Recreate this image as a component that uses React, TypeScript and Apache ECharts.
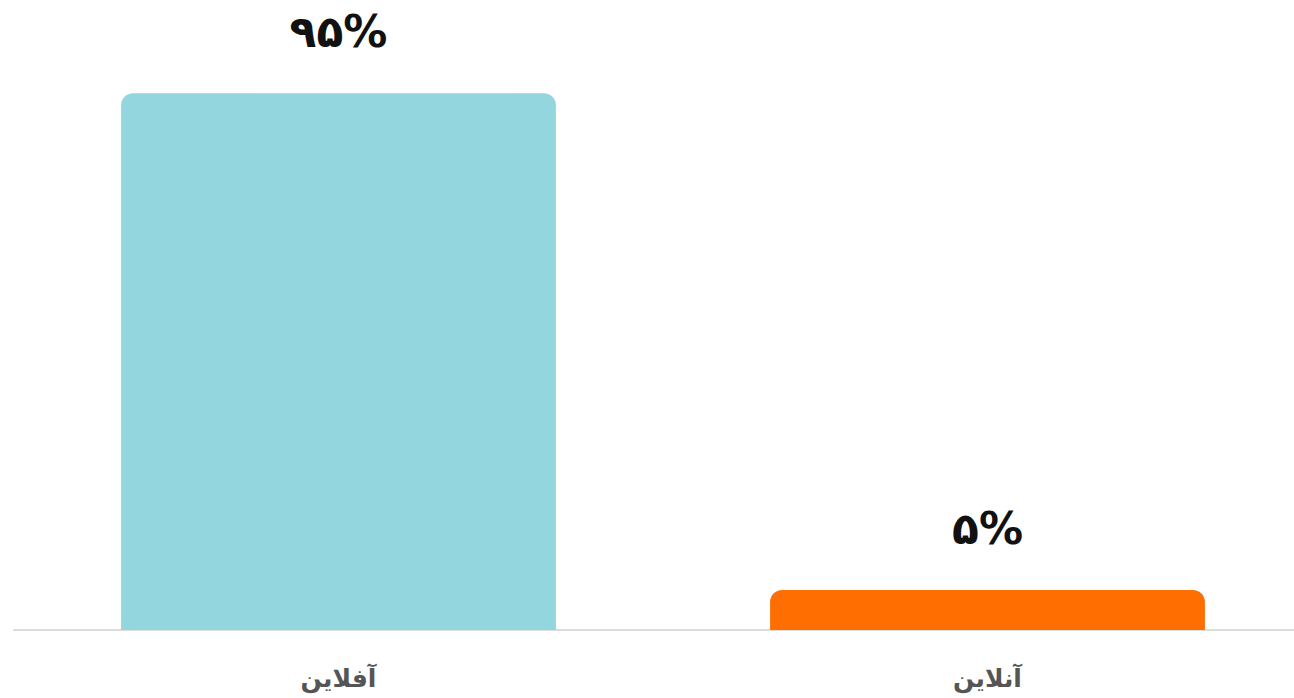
import React, { useEffect, useRef } from "react";
import * as echarts from "echarts";

const categories = ["آفلاین", "آنلاین"];
const values = [95, 5];
const valueLabels = ["۹۵%", "۵%"];
const colors = ["#93d6dd", "#ff6e00"];

export default function App() {
  const ref = useRef<HTMLDivElement>(null);
  useEffect(() => {
    if (!ref.current) return;
    const chart = echarts.init(ref.current, null, { renderer: "svg" });
    chart.setOption({
      animation: false,
      grid: { left: 14, top: 65, right: 0, bottom: 68, containLabel: false },
      xAxis: {
        type: "category",
        data: categories,
        axisLine: { show: true, lineStyle: { color: "#dcdcdc", width: 2 } },
        axisTick: { show: false },
        axisLabel: {
          color: "#555",
          fontSize: 25,
          fontWeight: "bold",
          fontFamily: "DejaVu Sans",
          margin: 36,
        },
      },
      yAxis: {
        type: "value",
        min: 0,
        max: 100,
        show: false,
        splitLine: { show: false },
      },
      series: [
        {
          type: "bar",
          barWidth: "67%",
          barMinHeight: 40,
          data: values.map((v, i) => ({
            value: v,
            itemStyle: { color: colors[i], borderRadius: [12, 12, 0, 0] },
            label: { formatter: valueLabels[i] },
          })),
          label: {
            show: true,
            position: "top",
            distance: 40,
            color: "#111",
            fontSize: 44,
            fontWeight: "bold",
            fontFamily: "DejaVu Sans",
          },
        },
      ],
    });
    return () => chart.dispose();
  }, []);
  return (
    <div style={{ position: "fixed", left: 0, top: 0, width: 1294, height: 698, overflow: "hidden", background: "#fff" }}>
      <div ref={ref} style={{ width: 1312, height: 698 }} />
    </div>
  );
}
